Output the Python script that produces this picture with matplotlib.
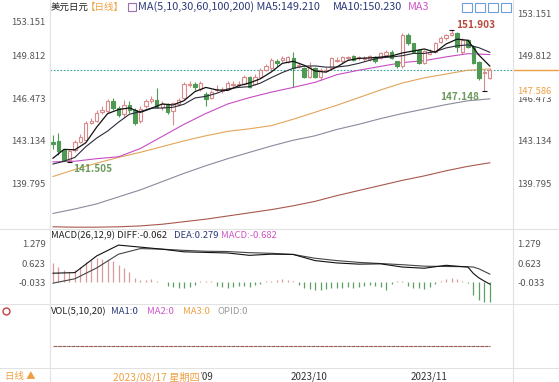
import matplotlib
matplotlib.use("Agg")
import matplotlib.pyplot as plt
from matplotlib.lines import Line2D
from matplotlib.patches import Rectangle
import numpy as np

# daily candles 2023-08-02 .. 2023-11-22 (trading-day index 0..80)
opens = [143.10, 143.20, 142.50, 141.70, 142.45, 143.10, 143.30, 144.60, 144.80, 145.45,
         145.55, 146.30, 145.75, 145.30, 146.00, 145.60, 144.75, 145.90, 146.35, 146.40,
         145.85, 146.10, 145.55, 146.10, 146.60, 147.60, 147.65, 147.25, 146.85, 146.60,
         147.20, 147.10, 147.30, 147.60, 147.55, 147.70, 148.20, 147.70, 148.25, 148.80,
         148.90, 149.45, 149.55, 149.40, 149.70, 149.10, 148.90, 148.25, 148.90, 148.20,
         148.70, 148.90, 149.50, 149.45, 149.70, 149.85, 149.70, 149.60, 149.60, 149.80,
         149.70, 149.95, 150.20, 149.45, 149.05, 151.50, 150.85, 150.30, 149.30, 150.05,
         150.20, 150.95, 151.25, 151.55, 151.65, 150.15, 151.10, 150.60, 149.40, 148.50,
         148.15]
highs = [143.70, 143.80, 142.60, 142.50, 143.30, 143.75, 144.80, 145.00, 145.60, 145.90,
         146.50, 146.55, 145.90, 146.40, 146.30, 145.80, 145.90, 146.50, 146.75, 147.35,
         146.30, 146.20, 146.25, 146.60, 147.80, 147.90, 147.80, 147.90, 147.00, 147.20,
         147.55, 147.45, 147.90, 147.90, 147.90, 148.40, 148.30, 148.45, 148.95, 149.20,
         149.70, 149.60, 149.85, 149.90, 150.15, 149.30, 149.00, 149.40, 149.00, 148.90,
         149.00, 149.80, 149.75, 149.90, 149.85, 149.95, 149.85, 149.85, 149.95, 149.90,
         150.20, 150.30, 150.30, 149.50, 151.70, 151.70, 150.90, 150.40, 150.35, 150.40,
         151.00, 151.40, 151.60, 151.903, 151.75, 151.30, 151.20, 150.70, 149.50, 148.85,
         148.95]
lows = [142.60, 142.10, 141.60, 141.505, 142.35, 143.00, 143.20, 144.50, 144.70, 145.30,
        145.40, 145.60, 145.05, 145.10, 145.40, 144.45, 144.60, 145.80, 146.20, 145.75,
        145.60, 145.30, 144.45, 145.95, 146.50, 147.40, 147.20, 147.10, 145.90, 146.50,
        147.00, 146.95, 147.20, 147.40, 147.45, 147.60, 147.35, 147.60, 148.10, 148.70,
        148.80, 149.10, 149.40, 149.30, 147.45, 148.90, 148.10, 148.15, 148.10, 148.00,
        148.60, 148.80, 149.40, 149.35, 149.55, 149.50, 149.55, 149.50, 149.50, 149.30,
        149.60, 149.85, 149.60, 148.95, 148.95, 150.75, 150.10, 149.20, 149.20, 149.95,
        150.10, 150.85, 151.15, 151.45, 150.15, 150.05, 150.50, 149.20, 148.00, 147.148,
        148.05]
closes = [142.95, 142.40, 141.65, 142.40, 143.10, 143.50, 144.60, 144.80, 145.40, 145.60,
          146.30, 145.75, 145.25, 146.05, 145.60, 144.60, 145.70, 146.35, 146.50, 145.85,
          146.10, 145.50, 146.15, 146.40, 147.65, 147.70, 147.45, 147.75, 146.45, 147.05,
          147.30, 147.25, 147.75, 147.65, 147.70, 148.20, 147.45, 148.25, 148.80, 149.05,
          149.55, 149.35, 149.70, 149.75, 148.90, 149.15, 148.20, 149.00, 148.20, 148.80,
          148.80, 149.70, 149.55, 149.80, 149.75, 149.55, 149.75, 149.70, 149.85, 149.50,
          150.10, 150.20, 149.70, 149.05, 151.50, 150.85, 150.20, 149.30, 150.25, 150.15,
          150.90, 151.25, 151.50, 151.70, 150.60, 151.10, 150.60, 149.30, 148.10, 148.60,
          148.80]

# moving averages
ma_short_idx = list(range(0, 81, 2))
ma5 = [141.84, 142.53, 142.50, 143.05, 144.28, 145.34, 145.66, 145.79, 145.44, 145.75,
       146.10, 146.02, 146.36, 147.07, 147.40, 147.20, 147.16, 147.53, 147.75, 148.08,
       148.62, 149.29, 149.45, 149.14, 148.69, 148.60, 149.01, 149.52, 149.68, 149.72,
       149.78, 149.87, 150.11, 150.26, 150.42, 150.16, 150.81, 151.19, 151.10, 149.94,
       149.08]
ma10 = [141.38, 141.60, 141.90, 142.74, 143.42, 143.97, 144.67, 145.29, 145.50, 145.77,
        145.78, 145.84, 146.08, 146.57, 146.70, 146.94, 147.28, 147.40, 147.46, 147.74,
        148.17, 148.57, 148.90, 149.07, 149.09, 148.99, 149.00, 149.10, 149.29, 149.53,
        149.73, 149.79, 149.89, 150.07, 150.07, 150.21, 150.50, 150.67, 150.74, 150.52,
        150.16]
ma_long_idx = list(range(0, 81, 4))
ma30 = [141.55, 141.60, 141.80, 141.95, 142.60, 143.55, 144.50, 145.35, 146.10, 146.60,
        147.03, 147.40, 147.80, 148.40, 148.75, 149.05, 149.35, 149.50, 149.80, 150.05, 149.98]
ma60 = [140.40, 140.95, 141.45, 141.90, 142.30, 142.75, 143.20, 143.60, 143.95, 144.15,
        144.40, 144.90, 145.45, 146.00, 146.60, 147.20, 147.75, 148.15, 148.45, 148.75, 148.85]
ma100 = [137.50, 137.85, 138.25, 138.80, 139.35, 140.00, 140.65, 141.25, 141.80, 142.30,
         142.80, 143.25, 143.60, 144.10, 144.50, 144.95, 145.35, 145.70, 146.05, 146.35, 146.50]
ma200 = [136.45, 136.42, 136.42, 136.45, 136.52, 136.65, 136.85, 137.05, 137.30, 137.55,
         137.80, 138.10, 138.45, 138.90, 139.30, 139.70, 140.10, 140.45, 140.85, 141.20, 141.48]

# MACD(26,12,9)
macd_idx = [0, 4, 8, 12, 16, 20, 24, 28, 32, 36, 40, 44, 48, 52, 56, 60, 64, 68, 72, 76, 77, 78, 79, 80]
diff = [0.31, 0.33, 0.90, 1.27, 1.20, 1.13, 1.04, 1.02, 1.00, 0.92, 0.96, 0.95, 0.74, 0.66,
        0.62, 0.63, 0.52, 0.48, 0.58, 0.52, 0.30, 0.15, 0.04, -0.062]
dea = [-0.03, 0.12, 0.49, 0.96, 1.15, 1.13, 1.09, 1.06, 1.05, 1.01, 0.99, 0.95, 0.82, 0.74,
       0.68, 0.64, 0.60, 0.55, 0.54, 0.53, 0.52, 0.46, 0.37, 0.279]
macd_hist = [0.65, 0.53, 0.42, 0.36, 0.42, 0.53, 0.70, 0.76, 0.82, 0.79,
             0.76, 0.73, 0.59, 0.48, 0.36, 0.14, 0.08, 0.08, 0.10, 0.05,
             0.02, -0.12, -0.15, -0.18, -0.20, -0.15, -0.08, 0.04, 0.05, 0.03,
             -0.12, -0.15, -0.18, -0.16, -0.14, -0.12, -0.15, -0.10, -0.05, 0.04,
             0.06, 0.08, 0.10, 0.08, 0.05, -0.10, -0.20, -0.22, -0.25, -0.25,
             -0.22, -0.20, -0.20, -0.18, -0.16, -0.18, -0.15, -0.12, -0.10, -0.12,
             -0.15, -0.25, -0.05, 0.04, 0.05, -0.12, -0.18, -0.20, -0.22, -0.15,
             -0.05, 0.04, 0.12, 0.15, 0.10, 0.05, -0.03, -0.44, -0.62, -0.66,
             -0.682]
volume = [0] * 81

price_ticks = [153.151, 149.812, 146.473, 143.134, 139.795]
macd_ticks = [1.279, 0.623, -0.033]
month_idx = [22, 43, 65]
month_labels = ["2023/09", "2023/10", "2023/11"]
cursor_idx = 11
cursor_label = "2023/08/17 星期四"

plt.rcParams["font.family"] = ["Noto Sans CJK SC", "DejaVu Sans"]
FS = 6.8      # axis labels
FH = 7.8      # header lines
W, H = 559, 382
UP = "#d98a8a"
DOWN = "#4e9a55"
AXC = "#555555"
NAVY = "#2d3a78"
PINK = "#d055c8"
ORANGE = "#eda043"

fig = plt.figure(figsize=(W / 100, H / 100), dpi=100)


def fx(px):
    return px / W


def fy(py):
    return 1 - py / H


def panel(top, bottom):
    a = fig.add_axes([fx(50), fy(bottom), fx(513) - fx(50), (bottom - top) / H])
    a.set_xlim(-0.55, 84.25)
    a.set_xticks([])
    a.set_yticks([])
    for s in a.spines.values():
        s.set_visible(False)
    return a


x = np.arange(len(closes))
o, h, l, c = map(np.array, (opens, highs, lows, closes))

# ---- price panel
ax = panel(0, 229)
ax.set_ylim(136.277, 154.266)
up = c >= o
cols = np.where(up, UP, DOWN)
ax.vlines(x, l, h, colors=cols, lw=0.8, zorder=2)
body = np.maximum(np.abs(c - o), 0.02)
ax.bar(x, body, bottom=np.minimum(o, c), width=0.62,
       color=np.where(up, "white", DOWN), edgecolor=cols, linewidth=0.8, zorder=3)

ax.plot(ma_long_idx, ma200, color="#a8584e", lw=0.8)
ax.plot(ma_long_idx, ma100, color="#8c8a9c", lw=0.8)
ax.plot(ma_long_idx, ma60, color="#e2a55a", lw=0.8)
ax.plot(ma_long_idx, ma30, color="#c84cc4", lw=0.8)
ax.plot(ma_short_idx, ma10, color="#2b2b3a", lw=0.8, zorder=4)
ax.plot(ma_short_idx, ma5, color="#111111", lw=0.9, zorder=4)

last = c[-1]
ax.axhline(last, color="#3f9f9f", lw=0.8, ls=(0, (1.5, 1.5)), zorder=1)
ax.plot([1.0, 1.1], [last, last], color=ORANGE, lw=1.0,
        transform=ax.get_yaxis_transform(), clip_on=False)

# marked extremes: overall high, recent low, early low
ih = int(np.argmax(h))
il = 60 + int(np.argmin(l[60:]))
il0 = int(np.argmin(l[:40]))
for i, v in ((ih, h[ih]), (il, l[il]), (il0, l[il0])):
    ax.hlines(v, i - 0.5, i + 0.5, color="#111111", lw=0.8, zorder=4)
ax.annotate(f"{h[ih]:.3f}", (ih, h[ih]), xytext=(3, 4), textcoords="offset points",
            color="#b9493c", fontsize=FS + 0.4, fontweight="bold", va="center", ha="left")
ax.annotate(f"{l[il]:.3f}", (il, l[il]), xytext=(-4, -4.5), textcoords="offset points",
            color="#6c9a5c", fontsize=FS + 0.4, fontweight="bold", va="center", ha="right")
ax.annotate(f"{l[il0]:.3f}", (il0, l[il0]), xytext=(3, -5), textcoords="offset points",
            color="#6c9a5c", fontsize=FS + 0.4, fontweight="bold", va="center", ha="left")

ytr = ax.get_yaxis_transform()
for p in price_ticks:
    ax.text(1.009, p, f"{p:.3f}", transform=ytr, ha="left", va="center", color=AXC, fontsize=FS)
    dy = -6 if p > 152 else 0
    ax.annotate(f"{p:.3f}", (-0.009, p), xycoords=ytr, xytext=(0, dy), textcoords="offset points",
                ha="right", va="center", color=AXC, fontsize=FS)
fig.text(fx(517), fy(92), "147.586", color=ORANGE, fontsize=FS, ha="left", va="center",
         bbox=dict(facecolor="white", edgecolor="none", pad=0.6), zorder=10)

# header
fig.text(fx(51), fy(7), "美元日元", fontsize=FS, va="center", color="#222222")
fig.text(fx(86), fy(7), "【日线】", fontsize=FS, va="center", color=ORANGE)
fig.add_artist(Rectangle((fx(128), fy(11)), fx(8), 8 / H, fill=False, ec="#9a6fb0", lw=0.8,
                         transform=fig.transFigure))
fig.text(fx(138), fy(7), "MA(5,10,30,60,100,200) MA5:149.210", fontsize=FH, va="center",
         color=NAVY)
fig.text(fx(333), fy(7), "MA10:150.230", fontsize=FH, va="center", color=NAVY)
fig.text(fx(408), fy(7), "MA3", fontsize=FH, va="center", color=PINK)
for k in range(4):
    fig.add_artist(Rectangle((fx(462 + 13 * k), fy(12)), fx(10), 9 / H, fill=False,
                             ec="#6e9fd6", lw=0.8, transform=fig.transFigure))

# ---- MACD panel
axm = panel(229, 304)
axm.set_ylim(-0.741, 1.819)
hist = np.array(macd_hist)
axm.vlines(x, 0, hist, colors=np.where(hist > 0, "#d99a9a", "#5ea063"), lw=0.9)
axm.plot(macd_idx, dea, color="#444444", lw=0.8)
axm.plot(macd_idx, diff, color="#111111", lw=0.8)
mtr = axm.get_yaxis_transform()
for v in macd_ticks:
    axm.text(1.009, v, f"{v:.3f}", transform=mtr, ha="left", va="center", color=AXC, fontsize=FS)
    axm.text(-0.009, v, f"{v:.3f}", transform=mtr, ha="right", va="center", color=AXC, fontsize=FS)
fig.text(fx(51), fy(236), "MACD(26,12,9) DIFF:-0.062", fontsize=6.8, va="center", color="#222222")
fig.text(fx(174), fy(236), "DEA:0.279", fontsize=6.8, va="center", color=NAVY)
fig.text(fx(221), fy(236), "MACD:-0.682", fontsize=6.8, va="center", color=PINK)

# ---- volume panel
axv = panel(304, 368)
axv.set_ylim(-0.534, 1)
axv.plot(x, volume, color="#b85a50", lw=0.8, ls=(0, (2.5, 1.5)))
axv.plot(x, volume, color="#666666", lw=0.8, ls=(2, (1.5, 2.5)))
fig.text(fx(51), fy(312), "VOL(5,10,20)", fontsize=FS, va="center", color="#222222")
fig.text(fx(111), fy(312), "MA1:0", fontsize=FS, va="center", color=NAVY)
fig.text(fx(147), fy(312), "MA2:0", fontsize=FS, va="center", color=PINK)
fig.text(fx(183), fy(312), "MA3:0", fontsize=FS, va="center", color=ORANGE)
fig.text(fx(217), fy(312), "OPID:0", fontsize=FS, va="center", color="#999999")
fig.add_artist(Line2D([fx(6)], [fy(311)], marker="o", ms=5, mfc="none", mec="#c94040",
                      mew=1.0, transform=fig.transFigure))

# ---- date row
for i, lab in zip(month_idx, month_labels):
    px = axv.transData.transform((i, 0))[0]
    fig.text((px + 3) / W, fy(377), lab, fontsize=7.1, va="center", ha="left", color="#333333")
cx = axv.transData.transform((cursor_idx, 0))[0]
fig.text(cx / W, fy(377), cursor_label, fontsize=7.4, va="center", ha="left", color=ORANGE,
         bbox=dict(facecolor="white", edgecolor="none", pad=0.8), zorder=10)
fig.text(fx(5), fy(377), "日线 ▲", fontsize=FS, va="center", color=ORANGE)

# frame lines
for py in (229, 304, 368):
    fig.add_artist(Line2D([0, 1], [fy(py), fy(py)], color="#e2e2e2", lw=0.8,
                          transform=fig.transFigure))
for px in (50, 513):
    fig.add_artist(Line2D([fx(px), fx(px)], [0, 1], color="#e2e2e2", lw=0.8,
                          transform=fig.transFigure))

fig.savefig("out.png", dpi=100)
